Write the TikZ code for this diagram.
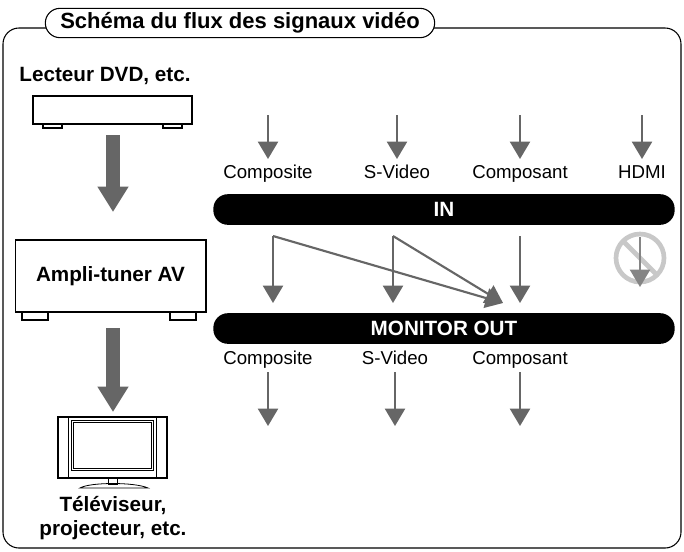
\documentclass[tikz,border=0pt]{standalone}
\usepackage{fontspec}
\setmainfont{Liberation Sans}
\usetikzlibrary{arrows.meta,positioning}
\definecolor{arrowgray}{HTML}{666666}
\definecolor{nogray}{HTML}{C8C8C8}
\tikzset{
  sig/.style={draw=arrowgray, line width=1.6pt, -{Triangle[width=15pt,length=13pt]}},
  big/.style={draw=arrowgray, line width=10pt, -{Triangle[width=22pt,length=19pt]}},
  bar/.style={fill=black, rounded corners=11pt, minimum width=346pt, minimum height=23pt,
    text=white, font=\bfseries\fontsize{15.5}{17}\selectfont, inner sep=0pt},
  lbl/.style={font=\fontsize{14}{16}\selectfont, inner sep=1pt},
  blbl/.style={font=\bfseries\fontsize{15.5}{17.5}\selectfont, inner sep=1pt, align=center},
  box/.style={draw, line width=0.8pt, fill=white}
}
\begin{document}
\begin{tikzpicture}[x=0.75pt,y=-0.75pt]
\useasboundingbox (0,0) rectangle (684,551);

% frame and title
\draw[line width=0.8pt, rounded corners=12pt] (3,28) rectangle (681,548);
\node[draw, line width=0.8pt, fill=white, rounded corners=11pt, minimum width=292pt, minimum height=22pt,
  inner sep=0pt, font=\bfseries\fontsize{16.5}{18}\selectfont] (title) at (240,23) {Schéma du flux des signaux vidéo};

% source
\node[blbl] (dvdlbl) at (105,76) {Lecteur DVD, etc.};
\draw[box] (33,96) rectangle (192,124);
\draw[line width=0.8pt] (43,124) rectangle (62,128) (163,124) rectangle (182,128);
\coordinate (dvd) at (113,135);
\coordinate (ampin) at (113,212);
\draw[big] (dvd) -- (ampin);

% amplifier
\node[box, minimum width=143pt, minimum height=54pt, blbl, line width=1pt] (amp) at (110.5,276) {Ampli-tuner AV};
\draw[line width=1pt] (22,312) rectangle (48,320) (170,312) rectangle (196,320);
\coordinate (ampout) at (113,328);
\coordinate (tvin) at (113,412);
\draw[big] (ampout) -- (tvin);

% tv
\draw[box] (58,417) rectangle (167,478);
\draw[line width=0.6pt] (68,417) -- (68,478) (156,417) -- (156,478);
\draw[line width=0.6pt] (71,420) rectangle (153,470) (73,422) rectangle (151,468);
\draw[line width=0.6pt] (108,478) rectangle (117,484);
\draw[line width=0.6pt] (80,488) .. controls (90,482) and (135,482) .. (148,488) -- cycle;
\node[blbl] (tv) at (113,518) {Téléviseur,\\projecteur, etc.};

% bars
\node[bar] (in) at (444,209.5) {IN};
\node[bar] (out) at (444,328.5) {MONITOR OUT};

% inputs
\foreach \x/\t/\n in {268/Composite/a, 397/S-Video/b, 520/Composant/c, 642/HDMI/d}{
  \coordinate (s\n) at (\x,115);
  \node[lbl, text depth=0pt, anchor=base] (i\n) at (\x,178) {\t};
  \draw[sig] (s\n) -- (\x,159);
}

% routing
\coordinate (ra) at (273,236);
\coordinate (rb) at (393,236);
\coordinate (rc) at (520,236);
\coordinate (mix) at (503,303);
\draw[sig] (ra) -- (273,303);
\draw[sig] (rb) -- (393,303);
\draw[sig] (rc) -- (520,303);
\draw[sig] (ra) -- (mix);
\draw[sig] (rb) -- (mix);

% no hdmi
\draw[nogray, line width=3.5pt] (640,258) circle (24);
\draw[nogray, line width=3.5pt] (623,241) -- (657,275);
\draw[sig, draw=arrowgray!80] (640,237) -- (640,287);

% outputs
\foreach \x/\t/\n in {268/Composite/a, 395/S-Video/b, 520/Composant/c}{
  \node[lbl, text depth=0pt, anchor=base] (o\n) at (\x,364) {\t};
  \draw[sig] (\x,372) -- (\x,426);
}
\end{tikzpicture}
\end{document}
